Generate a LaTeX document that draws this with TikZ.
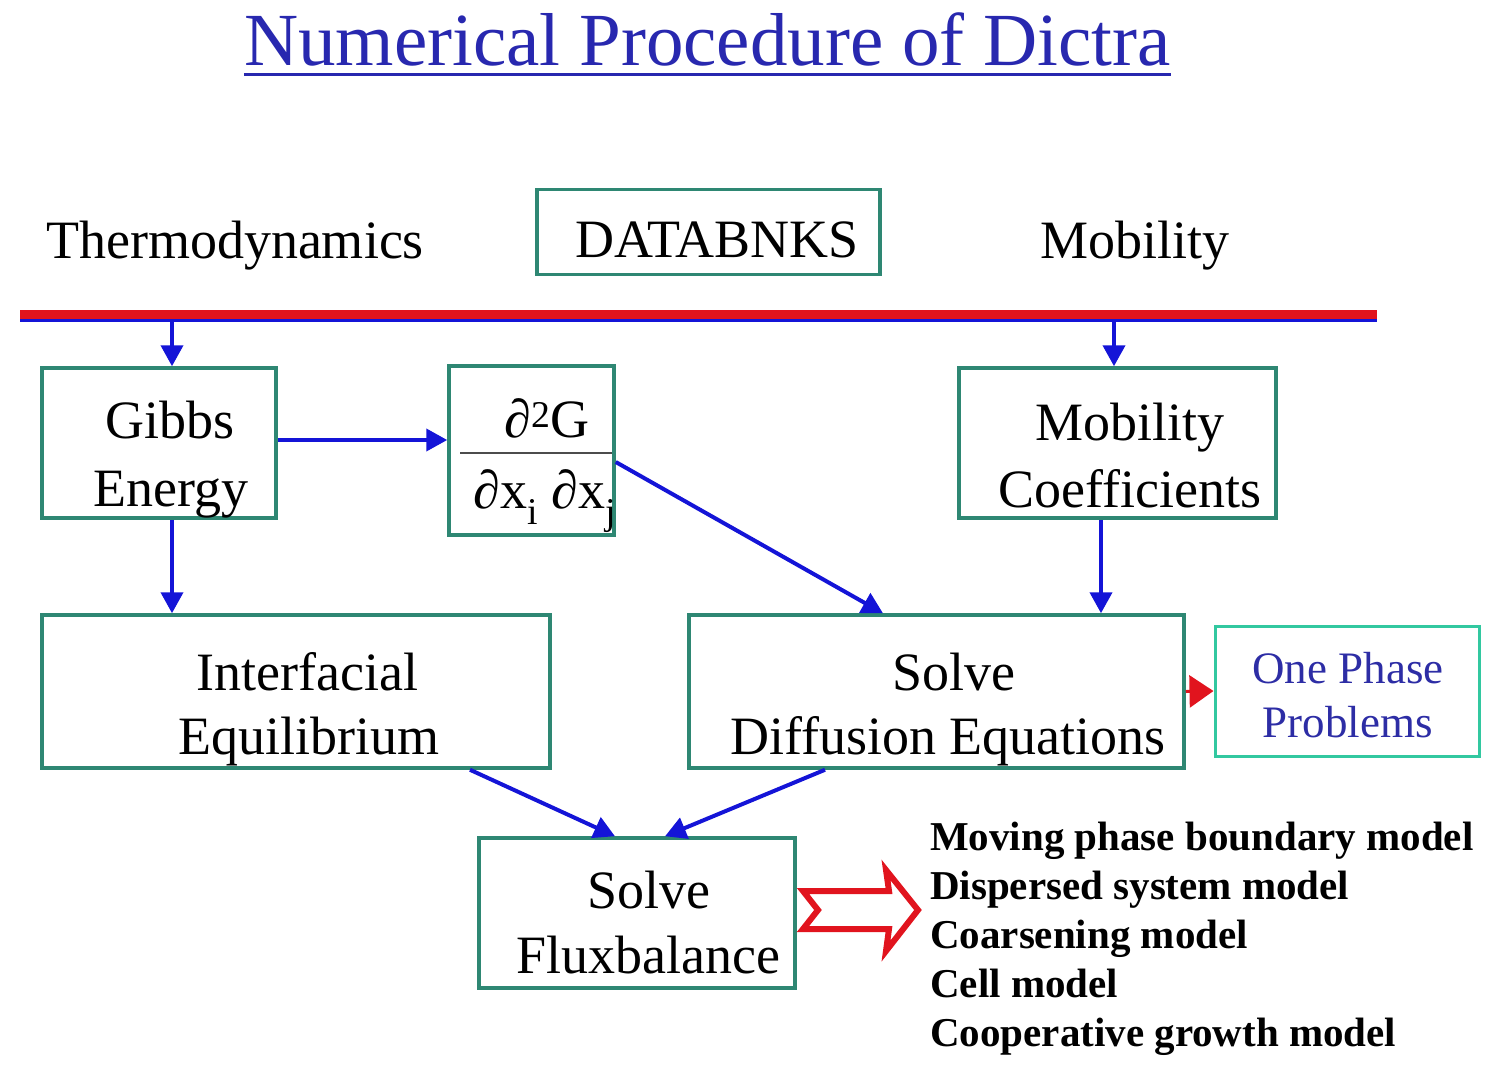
\documentclass[tikz,border=0pt]{standalone}
\usepackage{fontspec}
\setmainfont{Liberation Serif}
\usetikzlibrary{arrows.meta,calc}
\definecolor{boxteal}{RGB}{46,135,115}
\definecolor{lightteal}{RGB}{50,200,160}
\definecolor{arrblue}{RGB}{20,20,215}
\definecolor{titleblue}{RGB}{40,40,175}
\definecolor{opblue}{RGB}{45,45,165}
\definecolor{barred}{RGB}{225,20,30}
\begin{document}
\begin{tikzpicture}[x=1pt,y=-1pt,
  box/.style={draw=boxteal, line width=3.5pt, inner sep=0pt},
  txt/.style={font=\fontsize{54}{67}\selectfont, inner sep=0pt, anchor=base},
  lst/.style={font=\bfseries\fontsize{41}{49}\selectfont, inner sep=0pt, anchor=base west},
  arr/.style={draw=arrblue, line width=4pt, -{Triangle[length=21pt,width=22pt]}}]
\useasboundingbox (0,0) rectangle (1500,1085);
% title
\node[font=\fontsize{75}{90}\selectfont, text=titleblue, inner sep=0pt, anchor=base] (title) at (707.5,65) {Numerical Procedure of Dictra};
\draw[titleblue, line width=3pt] ($(title.base west)+(0,9)$) -- ($(title.base east)+(0,9)$);
% header row
\node[txt] (thermo) at (235,258) {Thermodynamics};
\node[box, minimum width=343pt, minimum height=85pt] (db) at (708.5,232) {};
\node[txt] (dbt) at (717,257) {DATABNKS};
\node[txt] (mob) at (1135,258) {Mobility};
% bar
\draw[arrblue, line width=3pt] (20,320.5) -- (1377,320.5);
\draw[barred, line width=9pt] (20,314.5) -- (1377,314.5);
\coordinate (t1) at (172,322);
\coordinate (t2) at (1114,322);
% boxes
\node[box, minimum width=234pt, minimum height=150pt] (gb) at (159,443) {};
\node[txt] (gb1) at (170,438) {Gibbs};
\node[txt] (gb2) at (171,506) {Energy};
\node[box, minimum width=165pt, minimum height=169pt] (pd) at (531.5,450.5) {};
\node[txt] (pdn) at (547,437) {∂\textsuperscript{2}G};
\draw[gray!60!black, line width=2pt] (460,453) -- (612,453);
\node[txt] (pdd) at (545,508) {∂x\textsubscript{i} ∂x\textsubscript{j}};
\node[box, minimum width=317pt, minimum height=150pt] (mc) at (1117.5,443) {};
\node[txt] (mc1) at (1130,440) {Mobility};
\node[txt] (mc2) at (1129.5,507) {Coefficients};
\node[box, minimum width=508pt, minimum height=153pt] (ie) at (296,691.5) {};
\node[txt] (ie1) at (307.5,690) {Interfacial};
\node[txt] (ie2) at (309,754) {Equilibrium};
\node[box, minimum width=495pt, minimum height=153pt] (df) at (936.5,691.5) {};
\node[txt] (df1) at (954,690) {Solve};
\node[txt] (df2) at (948,754) {Diffusion Equations};
\node[draw=lightteal, line width=3pt, inner sep=0pt, minimum width=264pt, minimum height=130pt] (op) at (1347,691) {};
\node[txt, font=\fontsize{45}{54}\selectfont, text=opblue] (op1) at (1348,683) {One Phase};
\node[txt, font=\fontsize{45}{54}\selectfont, text=opblue] (op2) at (1347.5,737) {Problems};
\node[box, minimum width=316pt, minimum height=150pt] (fb) at (637,913) {};
\node[txt] (fb1) at (649,908) {Solve};
\node[txt] (fb2) at (648,973) {Fluxbalance};
% list
\node[lst] (l1) at (930,850) {Moving phase boundary model};
\node[lst] (l2) at (930,899) {Dispersed system model};
\node[lst] (l3) at (930,948) {Coarsening model};
\node[lst] (l4) at (930,997) {Cell model};
\node[lst] (l5) at (930,1046) {Cooperative growth model};
% connectors
\draw[arr] (t1) -- (t1 |- gb.north);
\draw[arr] (t2) -- (t2 |- mc.north);
\draw[arr] (gb.east |- 0,440) -- (pd.west |- 0,440);
\draw[arr] (pd.east |- 0,462) -- (df.north -| 883,0);
\draw[arr] (mc.south -| 1101,0) -- (df.north -| 1101,0);
\draw[arr] (gb.south -| 172,0) -- (ie.north -| 172,0);
\draw[arr] (ie.south -| 470,0) -- (fb.north -| 615,0);
\draw[arr] (df.south -| 825,0) -- (fb.north -| 665,0);
\draw[barred, line width=3pt, -{Triangle[length=24pt,width=32pt]}] (df.east) -- (op.west);
% big outline arrow
\draw[barred, line width=6pt, miter limit=10] (803,891) -- (889,891) -- (886,870) -- (918,910) -- (886,951) -- (889,929) -- (803,929) -- (818,910) -- cycle;
\end{tikzpicture}
\end{document}
